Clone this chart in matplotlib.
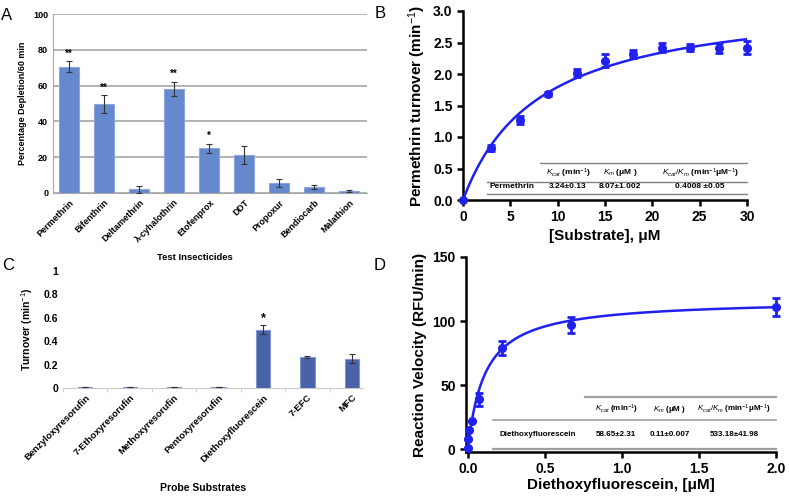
import numpy as np
import matplotlib
matplotlib.use("Agg")
import matplotlib.pyplot as plt

plt.rcParams['font.family'] = ['Liberation Sans', 'DejaVu Sans']
plt.rcParams['mathtext.fontset'] = 'custom'
plt.rcParams['mathtext.rm'] = 'Liberation Sans'
plt.rcParams['mathtext.it'] = 'Liberation Sans:italic'
plt.rcParams['mathtext.bf'] = 'Liberation Sans:bold'

# ---- data ----
# A: insecticide depletion
insecticides = ['Permethrin', 'Bifenthrin', 'Deltamethrin', 'λ-cyhalothrin', 'Etofenprox',
                'DDT', 'Propoxur', 'Bendiocarb', 'Malathion']
depletion = [70.5, 49.5, 2.0, 58.0, 25.0, 21.0, 5.8, 3.3, 1.2]
depletion_err = [3.0, 5.0, 2.0, 4.0, 2.5, 5.0, 2.2, 1.3, 0.4]
depletion_sig = ['**', '**', '', '**', '*', '', '', '', '']

# B: permethrin kinetics
perm_conc = [0, 3, 6, 9, 12, 15, 18, 21, 24, 27, 30]
perm_turnover = [0.0, 0.82, 1.27, 1.68, 2.02, 2.21, 2.32, 2.42, 2.42, 2.42, 2.42]
perm_err = [0.0, 0.05, 0.06, 0.03, 0.06, 0.10, 0.06, 0.07, 0.05, 0.08, 0.10]
perm_kcat, perm_km = 3.24, 8.07

# C: probe substrates
probes = ['Benzyloxyresorufin', '7-Ethoxyresorufin', 'Methoxyresorufin', 'Pentoxyresorufin',
          'Diethoxyfluorescein', '7-EFC', 'MFC']
probe_turnover = [0.012, 0.008, 0.008, 0.010, 0.50, 0.265, 0.25]
probe_err = [0.0, 0.0, 0.0, 0.0, 0.04, 0.005, 0.04]
probe_sig = ['', '', '', '', '*', '', '']

# D: diethoxyfluorescein kinetics
def_conc = [0.0, 0.003, 0.008, 0.025, 0.074, 0.222, 0.667, 2.0]
def_velocity = [1.0, 8.0, 15.0, 22.0, 39.0, 79.0, 97.0, 111.0]
def_err = [0.0, 0.0, 0.0, 0.0, 5.0, 5.5, 6.0, 7.0]
def_vmax, def_km = 117.0, 0.11

W, H = 789, 497
fig = plt.figure(figsize=(W / 100, H / 100), dpi=100)


def rect(l, t, r, b):
    return [l / W, 1 - b / H, (r - l) / W, (b - t) / H]


def ftext(x, y, s, **kw):
    fig.text(x / W, 1 - y / H, s, **kw)


# ---- panel A ----
ax = fig.add_axes(rect(53, 14, 367, 193))
xa = np.arange(len(insecticides))
ax.bar(xa, depletion, width=0.57, color='#6688cc', edgecolor='#8aa6dd', linewidth=0.8, zorder=3)
ax.errorbar(xa, depletion, yerr=depletion_err, fmt='none', ecolor='#333333',
            elinewidth=0.8, capsize=2, capthick=0.8, zorder=4)
for x, v, e, s in zip(xa, depletion, depletion_err, depletion_sig):
    if s:
        ax.text(x, v + e + 1.5, s, ha='center', va='bottom', fontsize=7, fontweight='bold')
ax.set_xlim(-0.46, 8.5)
ax.set_ylim(0, 100)
ax.set_yticks(range(0, 101, 20))
ax.yaxis.grid(True, color='#a6a6a6', linewidth=1.2, zorder=0)
ax.tick_params(axis='both', length=0, labelsize=6.5)
for lab in ax.get_yticklabels():
    lab.set_fontweight('bold')
ax.set_xticks(xa)
ax.set_xticklabels(insecticides, rotation=45, ha='right', rotation_mode='anchor',
                   fontsize=6.5, fontweight='bold')
for sp in ['top', 'right']:
    ax.spines[sp].set_visible(False)
ax.spines['left'].set_color('#a6a6a6')
ax.spines['bottom'].set_color('#a6a6a6')
ax.set_ylabel('Percentage Depletion/60 min', fontsize=6.5, fontweight='bold', labelpad=4)
ftext(195, 257, 'Test Insecticides', ha='center', va='center', fontsize=6.8, fontweight='bold')

# ---- panel C ----
ax = fig.add_axes(rect(63, 271, 363, 388))
xc = np.arange(len(probes))
ax.bar(xc, probe_turnover, width=0.32, color='#4a63a8', edgecolor='#7f96cf', linewidth=0.8, zorder=3)
ax.errorbar(xc, probe_turnover, yerr=probe_err, fmt='none', ecolor='#333333',
            elinewidth=0.8, capsize=2, capthick=0.8, zorder=4)
for x, v, e, s in zip(xc, probe_turnover, probe_err, probe_sig):
    if s:
        ax.text(x, v + e + 0.005, s, ha='center', va='bottom', fontsize=9, fontweight='bold')
ax.set_xlim(-0.49, 6.25)
ax.set_ylim(0, 1)
ax.set_yticks([0, 0.2, 0.4, 0.6, 0.8, 1.0])
ax.set_yticklabels(['0', '0.2', '0.4', '0.6', '0.8', '1'], fontsize=7.5, fontweight='bold')
ax.tick_params(axis='y', length=0)
ax.set_xticks(xc)
ax.set_xticklabels(probes, rotation=45, ha='right', rotation_mode='anchor',
                   fontsize=6.8, fontweight='bold')
ax.tick_params(axis='x', length=0)
ax.set_xticks(np.arange(-0.5, 6.5, 1.0), minor=True)
ax.tick_params(axis='x', which='minor', length=3, color='#c8c8c8')
for sp in ['top', 'right', 'left']:
    ax.spines[sp].set_visible(False)
ax.spines['bottom'].set_color('#c8c8c8')
ax.set_ylabel('Turnover (min$^{-1}$)', fontsize=7.5, fontweight='bold', labelpad=6)
ftext(203, 488, 'Probe Substrates', ha='center', va='center', fontsize=7.5, fontweight='bold')

blue = '#2020f0'

# ---- panel B ----
ax = fig.add_axes(rect(463, 11, 747, 200))
xs = np.linspace(0, 30, 200)
ax.plot(xs, perm_kcat * xs / (perm_km + xs), color=blue, linewidth=1.8, zorder=3)
ax.errorbar(perm_conc, perm_turnover, yerr=perm_err, fmt='o', color=blue, markersize=5.5,
            elinewidth=2, capsize=3, capthick=2, clip_on=False, zorder=4)
ax.set_xlim(0, 30)
ax.set_ylim(0, 3.0)
ax.set_xticks(range(0, 31, 5))
ax.set_yticks(np.arange(0, 3.01, 0.5))
ax.set_yticklabels(['%.1f' % v for v in np.arange(0, 3.01, 0.5)])
for sp in ['top', 'right']:
    ax.spines[sp].set_visible(False)
for sp in ['left', 'bottom']:
    ax.spines[sp].set_linewidth(1.8)
ax.tick_params(axis='both', width=1.8, length=4, labelsize=10)
for lab in ax.get_xticklabels() + ax.get_yticklabels():
    lab.set_fontweight('bold')
ax.set_xlabel('[Substrate], μM', fontsize=11, fontweight='bold', labelpad=3)
ax.set_ylabel('Permethrin turnover (min$^{-1}$)', fontsize=11, fontweight='bold', labelpad=4)
tr = ax.transAxes
gray = '#808080'
ax.plot([0.271, 1.0], [0.196, 0.196], color=gray, lw=1, transform=tr, clip_on=False)
ax.plot([0.085, 1.0], [0.095, 0.095], color=gray, lw=1, transform=tr, clip_on=False)
ax.plot([0.085, 1.0], [0.032, 0.032], color=gray, lw=1, transform=tr, clip_on=False)
tkw = dict(transform=tr, ha='center', va='center', fontsize=6, fontweight='bold')
ax.text(0.37, 0.143, r'$K_{cat}$ (min$^{-1}$)', **tkw)
ax.text(0.553, 0.143, r'$K_m$ (μM )', **tkw)
ax.text(0.835, 0.143, r'$K_{cat}/K_m$ (min$^{-1}$μM$^{-1}$)', **tkw)
ax.text(0.173, 0.069, 'Permethrin', **tkw)
ax.text(0.37, 0.069, '3.24±0.13', **tkw)
ax.text(0.553, 0.069, '8.07±1.002', **tkw)
ax.text(0.835, 0.069, '0.4008 ±0.05', **tkw)

# ---- panel D ----
ax = fig.add_axes(rect(466, 257, 776, 452))
xs = np.linspace(0, 2.0, 400)
ax.plot(xs, def_vmax * xs / (def_km + xs), color=blue, linewidth=1.8, zorder=3)
ax.errorbar(def_conc, def_velocity, yerr=def_err, fmt='o', color=blue, markersize=5.5,
            elinewidth=2, capsize=3, capthick=2, clip_on=False, zorder=4)
ax.set_xlim(-0.012, 2.0)
ax.set_ylim(-2, 150)
ax.set_xticks([0, 0.5, 1.0, 1.5, 2.0])
ax.set_xticklabels(['0.0', '0.5', '1.0', '1.5', '2.0'])
ax.set_yticks([0, 50, 100, 150])
for sp in ['top', 'right']:
    ax.spines[sp].set_visible(False)
for sp in ['left', 'bottom']:
    ax.spines[sp].set_linewidth(1.8)
ax.tick_params(axis='both', width=1.8, length=4, labelsize=10)
for lab in ax.get_xticklabels() + ax.get_yticklabels():
    lab.set_fontweight('bold')
ax.set_xlabel('Diethoxyfluorescein, [μM]', fontsize=11, fontweight='bold', labelpad=1)
ax.set_ylabel('Reaction Velocity (RFU/min)', fontsize=11, fontweight='bold', labelpad=4)
tr = ax.transAxes
ax.plot([0.385, 1.0], [0.28, 0.28], color='#a0a0a0', lw=1.6, transform=tr, clip_on=False)
ax.plot([0.087, 1.0], [0.166, 0.166], color='#a0a0a0', lw=1.2, transform=tr, clip_on=False)
ax.plot([0.087, 1.0], [0.016, 0.016], color='#a0a0a0', lw=1.6, transform=tr, clip_on=False)
tkw = dict(transform=tr, ha='center', va='center', fontsize=5.8, fontweight='bold')
ax.text(0.485, 0.218, r'$K_{cat}$ (min$^{-1}$)', **tkw)
ax.text(0.657, 0.218, r'$K_m$ (μM )', **tkw)
ax.text(0.864, 0.218, r'$K_{cat}/K_m$ (min$^{-1}$μM$^{-1}$)', **tkw)
ax.text(0.23, 0.088, 'Diethoxyfluorescein', **tkw)
ax.text(0.485, 0.088, '58.65±2.31', **tkw)
ax.text(0.657, 0.088, '0.11±0.007', **tkw)
ax.text(0.864, 0.088, '533.18±41.98', **tkw)

# panel letters
ftext(7, 15, 'A', fontsize=12, ha='center', va='center')
ftext(380, 13, 'B', fontsize=12, ha='center', va='center')
ftext(8, 265, 'C', fontsize=12, ha='center', va='center')
ftext(380, 265, 'D', fontsize=12, ha='center', va='center')

fig.savefig('out.png', dpi=100)
